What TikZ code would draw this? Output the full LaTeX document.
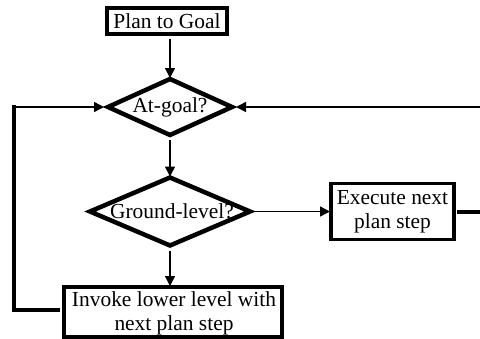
\documentclass[tikz,border=0pt]{standalone}
\usepackage{fontspec}
\setmainfont{Liberation Serif}
\usetikzlibrary{shapes.geometric,arrows.meta}
\begin{document}
\begin{tikzpicture}[x=1bp,y=-1bp,
  txt/.style={font=\fontsize{21.5}{24}\selectfont, align=center, inner sep=0pt},
  boxs/.style={draw, line width=3.5bp, inner sep=0pt, outer sep=0pt},
  dia/.style={draw, diamond, line width=4.5bp, inner sep=0pt, outer sep=0pt},
  arr/.style={line width=1.5bp, -{Triangle[length=10bp,width=10bp]}},
  loopline/.style={line width=3.2bp}]
\useasboundingbox (0,0) rectangle (480,338);
% texts
\node[txt] (tpg) at (167,21) {Plan to Goal};
\node[txt] (tag) at (170,107) {At-goal?};
\node[txt] (tgl) at (172,211.5) {Ground-level?};
\node[txt] (tex) at (392.5,212) {Execute next\\plan step};
\node[txt] (tin) at (174,313) {Invoke lower level with\\next plan step};
% shapes
\node[boxs, minimum width=120bp, minimum height=26bp] (pg) at (167,21) {};
\node[dia, minimum width=124bp, minimum height=56bp] (ag) at (170,107) {};
\node[dia, minimum width=160bp, minimum height=68bp] (gl) at (170,211.5) {};
\node[boxs, minimum width=123bp, minimum height=56bp] (ex) at (392.5,211.5) {};
\node[boxs, minimum width=218bp, minimum height=50bp] (inv) at (173,312) {};
% coordinates
\coordinate (lt) at (14,107);
\coordinate (lb) at (14,310);
\coordinate (rt) at (480,107);
\coordinate (re) at (480,211.5);
% connectors
\draw[arr, shorten <=5bp, shorten >=1bp] (ag.north |- pg.south) -- (ag.north);
\draw[arr, shorten <=5bp, shorten >=1bp] (ag.south) -- (gl.north);
\draw[arr, shorten <=5bp, shorten >=1bp] (gl.south) -- (gl.south |- inv.north);
\draw[arr, shorten <=3bp, shorten >=1bp] (gl.east) -- (ex.west);
\draw[arr, shorten >=4bp] (rt) -- (ag.east);
\draw[loopline, shorten >=-1.6bp] (inv.west |- lb) ++(-4,0) -- (lb) -- (lt);
\draw[arr, shorten >=4bp] (lt) -- (ag.west);
\draw[line width=4bp, shorten <=3bp] (ex.east) -- (re);
\end{tikzpicture}
\end{document}
